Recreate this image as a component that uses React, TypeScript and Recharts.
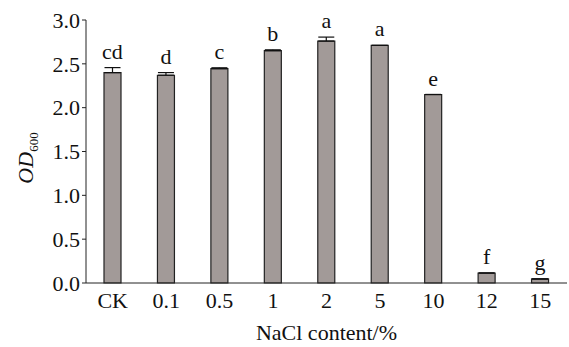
import { Bar, BarChart, ErrorBar, LabelList, XAxis, YAxis } from "recharts";

const categories = ["CK", "0.1", "0.5", "1", "2", "5", "10", "12", "15"];
const odValues = [2.4, 2.37, 2.445, 2.65, 2.76, 2.71, 2.15, 0.114, 0.046];
const sdValues = [0.057, 0.03, 0.01, 0.01, 0.045, 0, 0, 0, 0];
const letters = ["cd", "d", "c", "b", "a", "a", "e", "f", "g"];
const yTicks = [0, 0.5, 1.0, 1.5, 2.0, 2.5, 3.0];

const data = categories.map((name, i) => ({
  name,
  od: odValues[i],
  sd: [0, sdValues[i]],
  letter: letters[i],
}));

const FONT = "'Liberation Serif', 'Times New Roman', serif";
const FS = 22;

function LetterLabel(props: any) {
  const { x, y, width, height, value, index } = props;
  const v = odValues[index];
  const errPx = v > 0 ? (sdValues[index] * height) / v : 0;
  return (
    <text
      x={x + width / 2}
      y={y - errPx - 9}
      textAnchor="middle"
      fontFamily={FONT}
      fontSize={FS}
      fill="#111"
    >
      {value}
    </text>
  );
}

function YLabel() {
  return (
    <text
      transform="translate(33,158) rotate(-90)"
      textAnchor="middle"
      fontFamily={FONT}
      fontSize={FS}
      fill="#111"
    >
      <tspan fontStyle="italic">OD</tspan>
      <tspan fontSize={13} dy={5}>600</tspan>
    </text>
  );
}

export default function App() {
  return (
    <div style={{ position: "fixed", left: 0, top: 0, width: 569, height: 347, background: "#fff" }}>
      <BarChart
        width={569}
        height={347}
        data={data}
        margin={{ top: 20, right: 2, left: 0, bottom: 0 }}
        barCategoryGap={18}
      >
        <XAxis
          dataKey="name"
          tickLine={false}
          axisLine={{ stroke: "#222", strokeWidth: 1 }}
          tick={{ fontFamily: FONT, fontSize: FS, fill: "#111" }}
          tickMargin={3}
          height={64}
          label={{
            value: "NaCl content/%",
            position: "insideBottom",
            offset: 7,
            fontFamily: FONT,
            fontSize: FS,
            fill: "#111",
          }}
        />
        <YAxis
          width={86}
          domain={[0, 3]}
          ticks={yTicks}
          tickFormatter={(v: number) => v.toFixed(1)}
          tickSize={4}
          tickMargin={2}
          axisLine={{ stroke: "#222", strokeWidth: 1 }}
          tickLine={{ stroke: "#222" }}
          tick={{ fontFamily: FONT, fontSize: FS, fill: "#111" }}
          label={<YLabel />}
        />
        <Bar dataKey="od" fill="#a29a98" stroke="#222" strokeWidth={1.2} isAnimationActive={false}>
          <ErrorBar dataKey="sd" width={8} stroke="#111" strokeWidth={1.2} direction="y" />
          <LabelList dataKey="letter" content={<LetterLabel />} />
        </Bar>
      </BarChart>
    </div>
  );
}
